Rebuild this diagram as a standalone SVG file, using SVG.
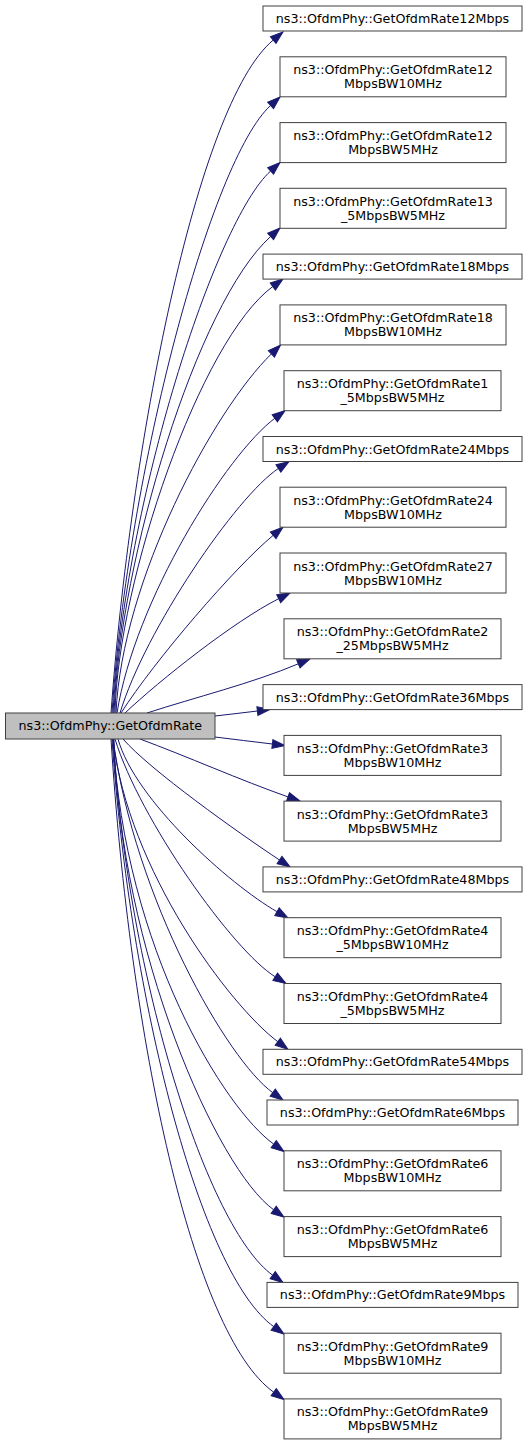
<svg xmlns="http://www.w3.org/2000/svg" width="528" height="1445" viewBox="0 0 528 1445">
<style>
.n rect{fill:#ffffff;stroke:#404040;stroke-width:1}
.m rect{fill:#bfbfbf;stroke:#404040;stroke-width:1}
text{font-family:"DejaVu Sans",sans-serif;font-size:12.7px;fill:#000000;text-anchor:middle}
.e path{fill:none;stroke:#191970;stroke-width:1;marker-end:url(#ah)}
</style>
<defs>
<marker id="ah" markerUnits="userSpaceOnUse" markerWidth="14" markerHeight="10" refX="0" refY="5" orient="auto" overflow="visible">
<path d="M0,0.6 L12.7,5 L0,9.4 z" fill="#191970" stroke="#191970" stroke-width="1"/>
</marker>
</defs>
<rect width="528" height="1445" fill="#ffffff"/>
<g id="edges" class="e">
<path d="M111,713 C130,450 196,104 273.2,40.1"/>
<path d="M112,713 C128,470 211.4,159.1 270.6,105.5"/>
<path d="M113,713 C125,500 215.1,221.3 270.6,171"/>
<path d="M114,713 C120,560 196.6,303.5 270.6,236.5"/>
<path d="M115,713 C118,580 200.3,339.9 272.8,286.5"/>
<path d="M116,713 C122,580 214,409.7 271.4,353.9"/>
<path d="M117,713 C135,600 226.8,454.3 274.8,418.3"/>
<path d="M120,713 C145,630 236.6,496 278.4,468.5"/>
<path d="M121,713 C155,660 234.7,567.3 273.2,535.3"/>
<path d="M125,713 C160,680 234,621.3 278.7,598.7"/>
<path d="M147,713 C194.5,697.5 252.3,683.3 298.3,663.8"/>
<path d="M215,716 C229,714.5 243,712.7 257.4,711"/>
<path d="M215,737 C234,739.3 253,741.7 272.4,744"/>
<path d="M140,739 C186,756 240.8,780.3 288,796.9"/>
<path d="M123,739 C150,770 238,832.5 279.5,860"/>
<path d="M118,739 C135,800 229.3,884.3 277,911.7"/>
<path d="M115,739 C140,820 232.7,950.3 275.2,976.8"/>
<path d="M113,739 C128,870 229.8,1005.7 277.8,1041.7"/>
<path d="M113,739 C135,900 228,1060.6 272.7,1092.6"/>
<path d="M113,739 C125,950 225,1109.2 273.7,1144.1"/>
<path d="M114,739 C120,950 216.8,1169 273.7,1209.8"/>
<path d="M113,739 C128,980 207.7,1228.6 272.7,1275.2"/>
<path d="M112,739 C130,1000 200.5,1274.2 273.7,1326.6"/>
<path d="M111,739 C130,1040 192.4,1334 273.7,1392.2"/>
</g>
<g id="main" class="m"><rect x="5.5" y="713" width="209.5" height="26"/><text x="110.3" y="730.4">ns3::OfdmPhy::GetOfdmRate</text></g>
<g id="n1" class="n"><rect x="263" y="6" width="259" height="25"/><text x="392.5" y="23">ns3::OfdmPhy::GetOfdmRate12Mbps</text></g>
<g id="n2" class="n"><rect x="280" y="56.8" width="226" height="40"/><text x="393" y="74.3">ns3::OfdmPhy::GetOfdmRate12</text><text x="393" y="88.3">MbpsBW10MHz</text></g>
<g id="n3" class="n"><rect x="280" y="122.6" width="226" height="40"/><text x="393" y="140.1">ns3::OfdmPhy::GetOfdmRate12</text><text x="393" y="154.1">MbpsBW5MHz</text></g>
<g id="n4" class="n"><rect x="280" y="188.3" width="226" height="40"/><text x="393" y="205.8">ns3::OfdmPhy::GetOfdmRate13</text><text x="393" y="219.8">_5MbpsBW5MHz</text></g>
<g id="n5" class="n"><rect x="263" y="254.1" width="259" height="25"/><text x="392.5" y="271.1">ns3::OfdmPhy::GetOfdmRate18Mbps</text></g>
<g id="n6" class="n"><rect x="280" y="304.9" width="226" height="40"/><text x="393" y="322.4">ns3::OfdmPhy::GetOfdmRate18</text><text x="393" y="336.4">MbpsBW10MHz</text></g>
<g id="n7" class="n"><rect x="284" y="370.7" width="217" height="40"/><text x="392.5" y="388.2">ns3::OfdmPhy::GetOfdmRate1</text><text x="392.5" y="402.2">_5MbpsBW5MHz</text></g>
<g id="n8" class="n"><rect x="263" y="436.5" width="259" height="25"/><text x="392.5" y="453.5">ns3::OfdmPhy::GetOfdmRate24Mbps</text></g>
<g id="n9" class="n"><rect x="280" y="487.2" width="226" height="40"/><text x="393" y="504.7">ns3::OfdmPhy::GetOfdmRate24</text><text x="393" y="518.7">MbpsBW10MHz</text></g>
<g id="n10" class="n"><rect x="280" y="553" width="226" height="40"/><text x="393" y="570.5">ns3::OfdmPhy::GetOfdmRate27</text><text x="393" y="584.5">MbpsBW10MHz</text></g>
<g id="n11" class="n"><rect x="284" y="618.8" width="217" height="40"/><text x="392.5" y="636.3">ns3::OfdmPhy::GetOfdmRate2</text><text x="392.5" y="650.3">_25MbpsBW5MHz</text></g>
<g id="n12" class="n"><rect x="263" y="684.6" width="259" height="25"/><text x="392.5" y="701.6">ns3::OfdmPhy::GetOfdmRate36Mbps</text></g>
<g id="n13" class="n"><rect x="284" y="735.4" width="217" height="40"/><text x="392.5" y="752.9">ns3::OfdmPhy::GetOfdmRate3</text><text x="392.5" y="766.9">MbpsBW10MHz</text></g>
<g id="n14" class="n"><rect x="284" y="801.1" width="217" height="40"/><text x="392.5" y="818.6">ns3::OfdmPhy::GetOfdmRate3</text><text x="392.5" y="832.6">MbpsBW5MHz</text></g>
<g id="n15" class="n"><rect x="263" y="866.9" width="259" height="25"/><text x="392.5" y="883.9">ns3::OfdmPhy::GetOfdmRate48Mbps</text></g>
<g id="n16" class="n"><rect x="284" y="917.7" width="217" height="40"/><text x="392.5" y="935.2">ns3::OfdmPhy::GetOfdmRate4</text><text x="392.5" y="949.2">_5MbpsBW10MHz</text></g>
<g id="n17" class="n"><rect x="284" y="983.5" width="217" height="40"/><text x="392.5" y="1001">ns3::OfdmPhy::GetOfdmRate4</text><text x="392.5" y="1015">_5MbpsBW5MHz</text></g>
<g id="n18" class="n"><rect x="263" y="1049.3" width="259" height="25"/><text x="392.5" y="1066.3">ns3::OfdmPhy::GetOfdmRate54Mbps</text></g>
<g id="n19" class="n"><rect x="267" y="1100" width="251" height="25"/><text x="392.5" y="1117">ns3::OfdmPhy::GetOfdmRate6Mbps</text></g>
<g id="n20" class="n"><rect x="284" y="1150.8" width="217" height="40"/><text x="392.5" y="1168.3">ns3::OfdmPhy::GetOfdmRate6</text><text x="392.5" y="1182.3">MbpsBW10MHz</text></g>
<g id="n21" class="n"><rect x="284" y="1216.6" width="217" height="40"/><text x="392.5" y="1234.1">ns3::OfdmPhy::GetOfdmRate6</text><text x="392.5" y="1248.1">MbpsBW5MHz</text></g>
<g id="n22" class="n"><rect x="267" y="1282.4" width="251" height="25"/><text x="392.5" y="1299.4">ns3::OfdmPhy::GetOfdmRate9Mbps</text></g>
<g id="n23" class="n"><rect x="284" y="1333.2" width="217" height="40"/><text x="392.5" y="1350.7">ns3::OfdmPhy::GetOfdmRate9</text><text x="392.5" y="1364.7">MbpsBW10MHz</text></g>
<g id="n24" class="n"><rect x="284" y="1398.9" width="217" height="40"/><text x="392.5" y="1416.4">ns3::OfdmPhy::GetOfdmRate9</text><text x="392.5" y="1430.4">MbpsBW5MHz</text></g>
</svg>
